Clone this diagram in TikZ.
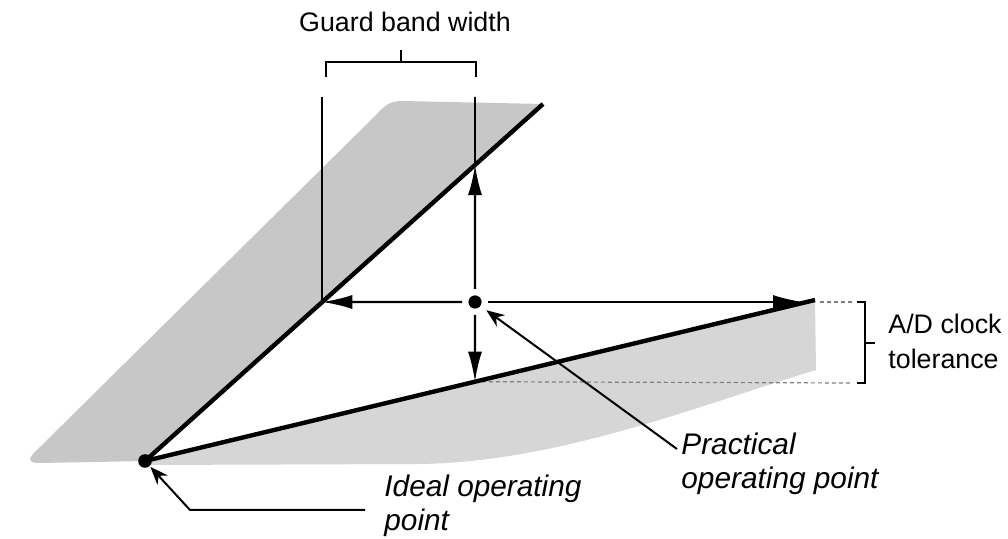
\documentclass[tikz,border=0pt]{standalone}
\usepackage{fontspec}
\setmainfont{Liberation Sans}
\usetikzlibrary{arrows.meta}

\tikzset{
  band/.style={fill=black!22},
  opline/.style={line width=2.2pt},
  guide/.style={line width=0.8pt},
  probe/.style={line width=1.1pt, -{Latex[length=15pt,width=7pt]}, shorten <=6.5pt},
  leader/.style={line width=1pt, -{Stealth[length=9pt,width=7pt]}},
  tolline/.style={line width=0.6pt, black!50, dash pattern=on 2pt off 1.5pt},
  lbl/.style={inner sep=0pt, font=\fontsize{13.4}{17.5}\selectfont, align=left},
  ilbl/.style={inner sep=0pt, font=\fontsize{14.9}{17}\selectfont\itshape, align=left}
}

\begin{document}
\begin{tikzpicture}[x=0.5pt, y=-0.5pt]
  \useasboundingbox (0,0) rectangle (1008,539);
  \coordinate (O) at (145,461);
  \coordinate (U) at (543,104);
  \coordinate (L) at (815,300);
  \coordinate (P) at (475,302);
  \coordinate (R) at (803,302);
  \coordinate (T) at (475,97);
  \coordinate (A) at (intersection of O--U and P--R);
  \coordinate (B) at (intersection of O--U and P--T);
  \coordinate (C) at (intersection of O--L and P--T);
  % shaded regions
  \fill[band] (O) -- (U) -- (402,101) .. controls (390,101) and (384,106) .. (376,115)
              -- (40,447) .. controls (30,456) and (24,463) .. (40,463) -- cycle;
  \fill[band, fill=black!16] (O) -- (L) -- (816,370)
              .. controls (700,405) and (560,462) .. (420,464) -- (145,465) -- cycle;
  % tolerance limits
  \draw[tolline] (820,302) -- (852,302);
  \draw[tolline] (C) -- (852,383);
  % operating lines
  \draw[opline] (O) -- (U);
  \draw[opline] (O) -- (L);
  % guard band guides
  \draw[guide] (A) -- (A |- T);
  \draw[guide] (B) -- (T);
  \draw[guide] (326,77) -- (326,62) -- (476,62) -- (476,77);
  \draw[guide] (401,62) -- (401,50);
  \draw[guide] (857,302) -- (865,302) -- (865,383) -- (857,383);
  \draw[guide] (865,343) -- (875,343);
  % arrows from the practical point
  \draw[probe] (P) -- (A);
  \draw[probe] (P) -- (R);
  \draw[probe] (P) -- (B);
  \draw[probe] (P) -- (C);
  \fill (O) circle (3.4pt);
  \fill (P) circle (3.3pt);
  % labels
  \node[lbl] (gbw) at (405,22) {Guard band width};
  \node[lbl, anchor=west] (adc) at (888,341) {A/D clock\\tolerance};
  \node[ilbl, anchor=west] (iop) at (384,506) {Ideal operating\\point};
  \node[ilbl, anchor=west] (pop) at (681,464) {Practical\\operating point};
  \coordinate (Is) at (365,510);
  \coordinate (Ik) at (190,510);
  \coordinate (Ps) at (677,449);
  \draw[leader, shorten >=4pt] (Is) -- (Ik) -- (O);
  \draw[leader, shorten >=7pt] (Ps) -- (P);
\end{tikzpicture}
\end{document}
